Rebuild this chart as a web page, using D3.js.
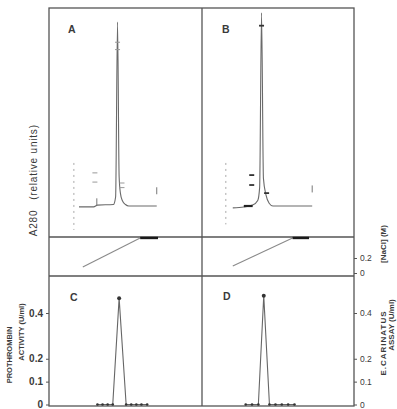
<!DOCTYPE html>
<html>
<head>
<meta charset="utf-8">
<script src="https://cdn.jsdelivr.net/npm/d3@7"></script>
<style>
  body { margin: 0; background: #fff; }
  svg { display: block; }
  text { font-family: "Liberation Sans", Arial, sans-serif; fill: #3a3a3a; }
</style>
</head>
<body>
<script>
// elution position (fraction number) and values

// A280 traces, relative units
var traceA_x = [4.7, 7.0, 7.6, 10.1, 10.45, 10.75, 11.0, 11.2, 11.5, 12.0, 12.5, 16.9];
var traceA_y = [-0.005, -0.005, 0.005, 0.008, 0.05, 1.0, 0.16, 0.07, 0.03, 0.008, 0.0, 0.0];
var traceB_x = [4.86, 6.6, 8.0, 8.8, 9.1, 9.4, 9.7, 10.1, 10.6, 11.2, 17.4];
var traceB_y = [-0.01, -0.005, 0.005, 0.03, 0.1, 1.05, 0.15, 0.06, 0.015, 0.0, 0.0];

// NaCl gradient (M)
var gradA_x = [5.3, 14.3], gradA_y = [0.08, 0.467];
var gradB_x = [4.86, 14.3], gradB_y = [0.093, 0.467];
var plateauA_x = [14.3, 17.1], plateauB_x = [14.3, 16.9];

// prothrombin activity (U/ml), panel C
var actC_x = [7.6, 8.4, 9.2, 10.0, 11.0, 12.1, 12.9, 13.7, 14.5, 15.4];
var actC_y = [0, 0, 0, 0, 0.465, 0, 0, 0, 0, 0];
// E. carinatus assay (U/ml), panel D
var actD_x = [6.9, 7.9, 8.9, 9.75, 10.65, 11.6, 12.6, 13.6, 14.6];
var actD_y = [0, 0, 0, 0.475, 0, 0, 0, 0, 0];

// recorder marks on the traces
var marksA = [[7.2, 0.18], [7.2, 0.13], [11.45, 0.125], [11.45, 0.10], [10.75, 0.89], [10.75, 0.85]];
var marksB = [[7.85, 0.168], [7.85, 0.114], [10.2, 0.07], [9.4, 0.98]];
var tickA = [[7.5, 0.02], [16.9, 0.08]];
var tickB = [[17.4, 0.09]];
var dashA = [3.9, 0.234, -0.13], dashB = [3.76, 0.234, -0.10];

var gradTicks = [0, 0.2];
var actTicks = [0, 0.1, 0.2, 0.4];

// layout
var W = 397, H = 409;
var L = 49, M = 202, R = 354;
var yTop = 8, gTop = 237, gBot = 276, yBot = 406;
var ink = "#555";

var svg = d3.select("body").append("svg")
    .attr("width", W)
    .attr("height", H);

var xA = d3.scaleLinear().domain([0, 24]).range([L, M]);
var xB = d3.scaleLinear().domain([0, 24]).range([M, R]);
var yTrace = d3.scaleLinear().domain([0, 1]).range([206, 22]);
var yGrad = d3.scaleLinear().domain([0, 0.2]).range([273, 258]);
var yAct = d3.scaleLinear().domain([0, 0.4]).range([404.5, 313]);

function pairs(xs, ys) { return xs.map(function(d, i) { return [d, ys[i]]; }); }

// frame
var frame = svg.append("g").attr("stroke", ink).attr("stroke-width", 1.3).attr("fill", "none");
frame.append("rect").attr("x", L).attr("y", yTop).attr("width", R - L).attr("height", yBot - yTop);
frame.append("line").attr("x1", M).attr("x2", M).attr("y1", yTop).attr("y2", yBot);
[gTop, gBot].forEach(function(y) {
  frame.append("line").attr("x1", L).attr("x2", R).attr("y1", y).attr("y2", y);
});

// traces
function drawTrace(x, xs, ys) {
  var line = d3.line()
      .x(function(d) { return x(d[0]); })
      .y(function(d) { return yTrace(d[1]); })
      .curve(d3.curveMonotoneX);
  svg.append("path")
      .datum(pairs(xs, ys))
      .attr("d", line)
      .attr("fill", "none")
      .attr("stroke", "#6a6a6a")
      .attr("stroke-width", 1.1);
}
drawTrace(xA, traceA_x, traceA_y);
drawTrace(xB, traceB_x, traceB_y);

// marks
function drawMarks(x, marks, ticks, dash, dark) {
  svg.append("g").selectAll("line").data(marks).enter().append("line")
      .attr("x1", function(d) { return x(d[0]) - 2.5; })
      .attr("x2", function(d) { return x(d[0]) + 2.5; })
      .attr("y1", function(d) { return yTrace(d[1]); })
      .attr("y2", function(d) { return yTrace(d[1]); })
      .attr("stroke", dark ? "#333" : "#999")
      .attr("stroke-width", dark ? 1.8 : 1);
  svg.append("g").selectAll("line").data(ticks).enter().append("line")
      .attr("x1", function(d) { return x(d[0]); })
      .attr("x2", function(d) { return x(d[0]); })
      .attr("y1", function(d) { return yTrace(d[1]) - 4; })
      .attr("y2", function(d) { return yTrace(d[1]) + 3; })
      .attr("stroke", "#777")
      .attr("stroke-width", 1);
  svg.append("line")
      .attr("x1", x(dash[0])).attr("x2", x(dash[0]))
      .attr("y1", yTrace(dash[1])).attr("y2", yTrace(dash[2]))
      .attr("stroke", "#aaa")
      .attr("stroke-dasharray", "2,4");
}
drawMarks(xA, marksA, tickA, dashA, false);
drawMarks(xB, marksB, tickB, dashB, true);
svg.append("line")
    .attr("x1", xB(6.6)).attr("x2", xB(8.0))
    .attr("y1", yTrace(0)).attr("y2", yTrace(0))
    .attr("stroke", "#222").attr("stroke-width", 2.2);

// gradients
function drawGrad(x, xs, ys, plateau) {
  svg.append("line")
      .attr("x1", x(xs[0])).attr("y1", yGrad(ys[0]))
      .attr("x2", x(xs[1])).attr("y2", yGrad(ys[1]))
      .attr("stroke", "#8a8a8a").attr("stroke-width", 1.1);
  svg.append("line")
      .attr("x1", x(plateau[0])).attr("x2", x(plateau[1]))
      .attr("y1", yGrad(ys[1])).attr("y2", yGrad(ys[1]))
      .attr("stroke", "#1a1a1a").attr("stroke-width", 2.4);
}
drawGrad(xA, gradA_x, gradA_y, plateauA_x);
drawGrad(xB, gradB_x, gradB_y, plateauB_x);

// activity profiles
function drawAct(x, xs, ys) {
  var data = pairs(xs, ys);
  svg.append("path")
      .datum(data)
      .attr("d", d3.line().x(function(d) { return x(d[0]); }).y(function(d) { return yAct(d[1]); }))
      .attr("fill", "none")
      .attr("stroke", "#666")
      .attr("stroke-width", 1.1);
  svg.append("g").selectAll("circle").data(data).enter().append("circle")
      .attr("cx", function(d) { return x(d[0]); })
      .attr("cy", function(d) { return yAct(d[1]); })
      .attr("r", function(d) { return d[1] > 0 ? 2 : 1.3; })
      .attr("fill", "#333");
}
drawAct(xA, actC_x, actC_y);
drawAct(xB, actD_x, actD_y);

// axes
function styleAxis(g, size, weight) {
  g.select(".domain").remove();
  g.selectAll("line").attr("stroke", ink);
  g.selectAll("text")
      .style("font-family", "'Liberation Sans', Arial, sans-serif")
      .style("font-weight", weight)
      .style("font-size", size + "px")
      .attr("fill", "#3a3a3a");
}
var fmt = function(d) { return d === 0 ? "0" : d3.format(".1f")(d); };

svg.append("g")
    .attr("transform", "translate(" + R + ",0)")
    .call(d3.axisRight(yGrad).tickValues(gradTicks).tickSize(3).tickPadding(3).tickFormat(fmt))
    .call(styleAxis, 8.5, "normal");
svg.append("g")
    .attr("transform", "translate(" + R + ",0)")
    .call(d3.axisRight(yAct).tickValues(actTicks).tickSize(3).tickPadding(3).tickFormat(fmt))
    .call(styleAxis, 8.5, "normal");
svg.append("g")
    .attr("transform", "translate(" + L + ",0)")
    .call(d3.axisLeft(yAct).tickValues(actTicks).tickSize(3).tickPadding(3).tickFormat(fmt))
    .call(styleAxis, 10, "bold");

// panel letters
[["A", 68, 33], ["B", 222, 33], ["C", 70, 301], ["D", 223, 300]].forEach(function(p) {
  svg.append("text").attr("x", p[1]).attr("y", p[2])
      .style("font-size", "10.5px").style("font-weight", "bold").text(p[0]);
});

// axis titles
function vtext(x, y, s, size, bold, spacing) {
  svg.append("text")
      .attr("transform", "translate(" + x + "," + y + ") rotate(-90)")
      .attr("text-anchor", "middle")
      .style("font-size", size + "px")
      .style("font-weight", bold ? "bold" : "normal")
      .style("letter-spacing", (spacing || 0) + "px")
      .text(s);
}
vtext(37, 223, "A280", 10, false, 0.8);
vtext(37, 162, "(relative units)", 10, false, 0.8);
vtext(12, 355, "PROTHROMBIN", 7.5, true, 0);
vtext(24, 332, "ACTIVITY (U/ml)", 7.5, true, 0);
vtext(386, 244, "[NaCl] (M)", 8, true, 0);
vtext(386, 343, "E.CARINATUS", 8, true, 1);
vtext(394, 325, "ASSAY (U/ml)", 8, true, 0);
</script>
</body>
</html>
